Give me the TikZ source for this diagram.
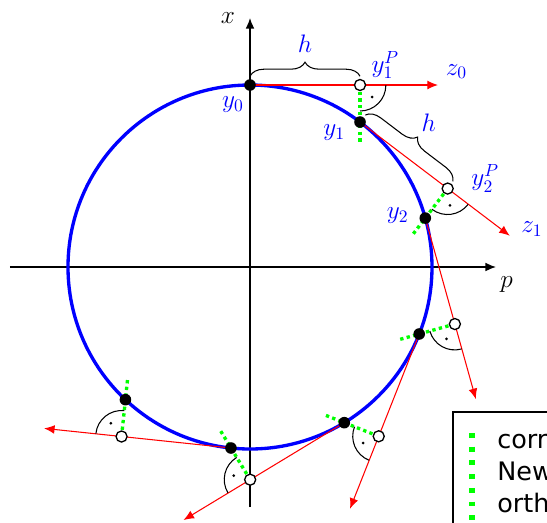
\documentclass[tikz,border=0pt]{standalone}
\usepackage{amsmath,amssymb}
\usepackage{fontspec}
\newfontfamily\legfont{DejaVu Sans}
\usetikzlibrary{positioning,arrows.meta,calc,decorations.pathreplacing}

\begin{document}
\begin{tikzpicture}[x=0.02cm,y=0.02cm,
  axis/.style={line width=0.8pt,-{Latex[length=6pt,width=5pt]}},
  circ/.style={blue,line width=1.9pt},
  pred/.style={red,line width=0.6pt,-{Latex[length=6pt,width=5pt]}},
  corr/.style={green,line width=1.9pt,dash pattern=on 1.9pt off 1.9pt},
  corrleg/.style={green,line width=3.2pt,dash pattern=on 2.8pt off 5pt},
  rangle/.style={line width=0.6pt},
  brc/.style={decorate,decoration={brace,amplitude=8pt,raise=5pt},line width=0.6pt},
  sol/.style={circle,fill=black,inner sep=0pt,minimum size=6.6pt},
  prd/.style={circle,draw=black,fill=white,line width=0.75pt,inner sep=0pt,minimum size=6.3pt},
  lbl/.style={text=blue,font=\Large},
  axlbl/.style={font=\Large},
  legtext/.style={font=\legfont\fontsize{14.5}{17}\selectfont,inner sep=0pt}]
\useasboundingbox (-250,-255) rectangle (297,267);
% axes
\coordinate (ptip) at (246,0);
\coordinate (xtip) at (0,249);
\draw[axis] (-240,0) -- (ptip);
\draw[axis] (0,-240) -- (xtip);
\node[axlbl,below right=2pt and -1pt of ptip] (lp) {$p$};
\node[axlbl,left=5pt of xtip] (lx) {$x$};
% exact solution
\draw[circ] (0,0) circle[radius=182];
% steps
\def\al{37.2}
\pgfmathsetmacro{\hh}{182*sin(\al)}
\foreach \n in {0,...,6}
  \coordinate (y\n) at ({90-\n*\al}:182);
\foreach \n in {0,...,5} {
  \pgfmathtruncatemacro{\m}{\n+1}
  \pgfmathsetmacro{\ph}{90-\n*\al}
  \pgfmathsetmacro{\tn}{\ph-90}
  \pgfmathsetmacro{\sa}{\ph-180}
  \pgfmathsetmacro{\da}{\ph-135}
  \coordinate (yP\m) at ($(y\n)+(\tn:\hh)$);
  \coordinate (z\n) at ($(y\n)+(\tn:188)$);
  \coordinate (g\m) at ($(yP\m)+(\sa:60)$);
  \draw[pred] (y\n) -- (z\n);
  \draw[corr] (yP\m) -- (g\m);
  \draw[rangle] ($(yP\m)+(\sa:26)$) arc[start angle=\sa,end angle=\tn,radius=14.7pt];
  \fill ($(yP\m)+(\da:17)$) circle[radius=0.85pt];
}
\foreach \n in {0,...,6}
  \node[sol] (s\n) at (y\n) {};
\foreach \m in {1,...,6}
  \node[prd] (sP\m) at (yP\m) {};
% step length
\draw[brc] (y0) -- (yP1);
\draw[brc] (y1) -- (yP2);
\node[lbl] (h1) at ($(y0)!0.5!(yP1)!23.5pt!90:(yP1)$) {$h$};
\node[lbl] (h2) at ($(y1)!0.5!(yP2)!23.5pt!90:(yP2)$) {$h$};
% labels
\node[lbl,below left=3pt and 0pt of y0] (ly0) {$y_0$};
\node[lbl,above right=0pt and 3pt of yP1] (lyP1) {$y_1^P$};
\node[lbl,above right=0pt and 1pt of z0] (lz0) {$z_0$};
\node[lbl,below left=-2pt and 5pt of y1] (ly1) {$y_1$};
\node[lbl,above right=-5.5pt and 10pt of yP2] (lyP2) {$y_2^P$};
\node[lbl,above left=-6.5pt and 6pt of y2] (ly2) {$y_2$};
\node[lbl,above right=-4pt and 3pt of z1] (lz1) {$z_1$};
% legend
\draw[line width=0.85pt] (203,-145) rectangle (330,-290);
\coordinate (legtop) at (222,-166);
\draw[corrleg] (legtop) -- ++(0,-120);
\node[legtext,anchor=base west] (leg1) at (247,-181) {correction};
\node[legtext,anchor=base west] (leg2) at (247,-213) {Newton};
\node[legtext,anchor=base west] (leg3) at (247,-245) {orthogonal};
\end{tikzpicture}
\end{document}
